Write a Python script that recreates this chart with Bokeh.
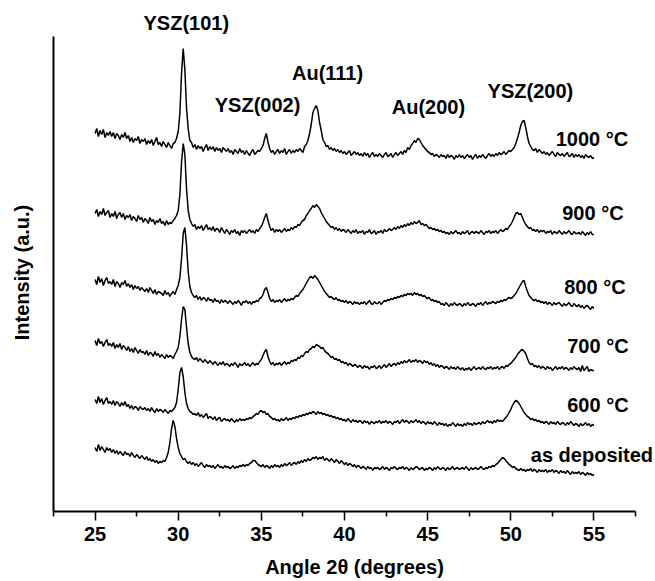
import numpy as np
from bokeh.plotting import figure
from bokeh.models import LinearAxis, FixedTicker, ColumnDataSource, Title
from bokeh.core.properties import value
from bokeh.embed import file_html
from bokeh.resources import INLINE

# Scan positions (degrees 2-theta), 0.1 deg step from 25 to 55
two_theta = np.round(np.arange(250, 551) / 10.0, 1)

# Intensities (a.u.) per annealing temperature, relative to each pattern's baseline
int_1000 = [
    22, 27, 19, 25, 21, 26, 18, 23, 20, 24,
    19, 23, 17, 22, 20, 16, 21, 18, 23, 17,
    20, 14, 18, 13, 17, 15, 19, 12, 16, 14,
    17, 11, 15, 12, 16, 10, 14, 18, 11, 13,
    9, 14, 11, 8, 13, 10, 7, 12, 13, 17,
    24, 42, 82, 107, 86, 47, 27, 15, 13, 8,
    11, 6, 10, 7, 9, 4, 8, 11, 5, 9,
    6, 9, 4, 8, 5, 7, 3, 8, 6, 4,
    7, 3, 5, 1, 6, 4, 2, 7, 3, 5,
    1, 5, 2, 0, 4, 6, 1, 3, 5, 4,
    7, 10, 17, 22, 13, 7, 3, 5, 1, 4,
    6, 2, 5, 3, 7, 1, 4, 6, 2, 5,
    3, 6, 4, 7, 5, 3, 9, 11, 15, 22,
    31, 43, 47, 50, 45, 33, 25, 16, 13, 9,
    10, 6, 8, 5, 7, 4, 6, 3, 5, 2,
    4, 1, 3, 5, 0, 2, 4, 1, 3, 0,
    2, -1, 3, 0, 2, -2, 1, 3, -1, 1,
    -1, 2, 0, -2, 1, 3, -1, 0, 2, -2,
    1, 3, 0, 2, 4, 1, 5, 3, 8, 6,
    10, 12, 15, 13, 17, 16, 13, 10, 8, 6,
    4, 3, 1, 2, -1, 1, 0, -2, 1, -1,
    0, -3, 1, -2, 0, -1, -4, 0, -2, 1,
    -2, 0, -3, -1, 1, -2, 0, -4, -1, 1,
    -3, 0, -2, 1, -1, -3, 0, 2, -1, 1,
    -1, 2, 0, 3, 1, 2, 4, 1, 3, 5,
    4, 6, 8, 12, 17, 23, 30, 34, 35, 28,
    19, 12, 9, 6, 5, 7, 3, 6, 4, 2,
    4, 1, 3, 0, 2, 4, 1, -1, 3, 1,
    0, 2, -1, 1, 3, -1, 0, 2, -2, 1,
    -1, 1, -2, 0, -3, 1, -1, -2, 0, -3,
    -2,
]

int_900 = [
    19, 23, 16, 21, 18, 24, 17, 20, 22, 15,
    19, 16, 21, 14, 18, 20, 15, 19, 13, 17,
    15, 18, 12, 16, 14, 11, 17, 13, 15, 10,
    14, 12, 9, 15, 11, 13, 8, 12, 10, 14,
    9, 11, 7, 12, 8, 10, 9, 12, 14, 17,
    22, 38, 70, 89, 78, 44, 22, 13, 9, 6,
    8, 3, 6, 4, 7, 2, 5, 8, 3, 5,
    2, 6, 1, 4, 3, 0, 5, 2, -1, 3,
    1, -2, 2, 0, 3, -1, 1, -3, 2, 0,
    2, -1, 1, 3, 0, 2, -1, 3, 1, 4,
    6, 10, 15, 19, 12, 6, 2, 4, 0, 3,
    1, 3, 0, 2, 4, 1, 3, 2, 5, 3,
    6, 5, 8, 7, 10, 12, 13, 17, 19, 22,
    24, 27, 25, 28, 26, 24, 20, 17, 14, 11,
    9, 7, 5, 6, 3, 5, 2, 4, 1, 3,
    2, 0, 3, 1, -1, 2, 0, 3, -1, 1,
    0, 2, -2, 1, 0, 3, -1, 0, 2, -2,
    1, 0, 2, -1, 3, 1, 2, 4, 2, 3,
    5, 3, 6, 4, 7, 5, 8, 6, 9, 7,
    10, 8, 11, 9, 10, 12, 8, 9, 7, 8,
    6, 4, 5, 3, 4, 2, 3, 1, 2, 0,
    1, -1, 0, -2, 1, -1, 0, 2, -1, 0,
    -2, 1, -1, 0, 2, -2, 0, 1, -1, 1,
    0, -1, 2, 0, -2, 1, 0, 2, -1, 1,
    0, 2, -1, 1, 3, 1, 2, 4, 3, 6,
    8, 11, 15, 19, 20, 18, 19, 15, 11, 8,
    6, 4, 5, 2, 3, 1, 3, 0, 2, 1,
    2, -1, 1, 0, 2, -2, 1, 0, -1, 2,
    0, -2, 1, -1, 0, 2, -1, -2, 1, -1,
    -1, 0, -2, 1, -1, -3, 0, -2, 1, -2,
    -2,
]

int_800 = [
    24, 19, 27, 21, 25, 18, 23, 26, 20, 22,
    19, 24, 17, 22, 20, 16, 21, 19, 23, 17,
    20, 16, 19, 14, 18, 15, 17, 13, 16, 14,
    12, 15, 11, 16, 13, 10, 14, 9, 12, 11,
    10, 8, 13, 9, 11, 7, 10, 12, 9, 14,
    18, 26, 45, 70, 76, 58, 32, 17, 11, 8,
    6, 8, 4, 7, 3, 6, 5, 2, 6, 3,
    4, 1, 5, 2, 3, 0, 4, 1, 3, 2,
    0, 3, 1, -1, 2, 0, 3, 1, -2, 2,
    1, 3, 0, 2, -1, 2, 1, 3, 2, 5,
    6, 9, 14, 16, 11, 5, 2, 4, 1, 3,
    2, 4, 1, 3, 5, 2, 4, 3, 5, 4,
    6, 8, 7, 10, 12, 14, 17, 20, 23, 26,
    27, 25, 28, 26, 24, 21, 18, 15, 12, 10,
    8, 6, 7, 5, 4, 6, 3, 4, 2, 3,
    1, 3, 0, 2, 1, -1, 2, 0, 1, -1,
    1, 0, 2, -1, 1, 3, 0, -1, 2, 0,
    0, 2, -1, 1, 3, 2, 4, 3, 5, 4,
    6, 5, 7, 6, 8, 7, 9, 8, 10, 9,
    10, 8, 11, 9, 10, 8, 9, 7, 8, 6,
    5, 6, 3, 4, 2, 3, 1, 2, -1, 0,
    -2, 1, -1, -3, 0, -2, 1, -1, -2, 0,
    -1, -3, 0, -2, 1, -1, -2, 0, -1, -3,
    0, -1, 1, -2, 0, 2, -1, 1, 0, 2,
    1, 0, 2, 1, 3, 2, 4, 3, 5, 6,
    5, 6, 8, 10, 13, 16, 19, 22, 23, 17,
    12, 8, 6, 4, 3, 4, 2, 3, 1, 2,
    0, 2, -1, 1, 0, -2, 1, -1, 0, 1,
    -1, -3, 0, -2, -1, 1, -2, -3, 0, -2,
    -3, -1, -4, -2, -5, -3, -2, -4, -6, -3,
    -5,
]

int_700 = [
    27, 22, 29, 24, 26, 21, 25, 28, 22, 24,
    21, 25, 19, 23, 20, 24, 18, 22, 20, 17,
    21, 16, 19, 15, 20, 17, 14, 18, 15, 16,
    13, 17, 12, 15, 14, 11, 16, 12, 14, 10,
    13, 11, 9, 13, 10, 12, 11, 9, 13, 16,
    20, 31, 48, 61, 58, 40, 24, 15, 11, 9,
    8, 10, 6, 9, 7, 5, 8, 6, 4, 7,
    5, 3, 6, 4, 2, 5, 3, 6, 2, 4,
    3, 1, 4, 2, 5, 3, 0, 4, 2, 3,
    5, 2, 4, 1, 3, 5, 2, 4, 3, 6,
    8, 12, 16, 18, 11, 6, 3, 5, 2, 4,
    3, 5, 2, 4, 6, 3, 5, 4, 7, 6,
    8, 7, 10, 9, 12, 11, 14, 16, 15, 18,
    19, 21, 20, 23, 22, 21, 19, 20, 17, 15,
    14, 12, 10, 11, 8, 9, 7, 8, 5, 6,
    4, 5, 2, 4, 3, 1, 3, 2, 0, 2,
    1, -1, 2, 0, 1, -2, 1, 0, 2, -1,
    0, 2, -1, 1, 3, 0, 2, 4, 1, 3,
    4, 2, 5, 3, 6, 4, 7, 5, 6, 8,
    5, 7, 6, 8, 5, 7, 6, 4, 7, 5,
    6, 3, 5, 2, 4, 1, 3, 0, 2, 1,
    -1, 1, 0, -2, 1, -1, 0, -2, 1, -1,
    -2, 0, -3, -1, -2, 0, -3, -1, 1, -2,
    -1, 0, -2, 1, -1, -2, 0, -1, 1, -2,
    0, -1, 1, -2, 0, 1, -1, 2, 1, 3,
    4, 6, 8, 10, 13, 15, 17, 18, 16, 14,
    9, 5, 3, 4, 1, 2, 0, 2, -1, 1,
    0, -2, 1, -1, 0, -3, -1, 1, -2, 0,
    -1, 1, -2, 0, -1, -3, 0, -2, 1, -1,
    -2, 0, -4, 2, -3, -1, 1, -4, -2, -3,
    -3,
]

int_600 = [
    23, 19, 26, 20, 24, 18, 22, 25, 19, 21,
    18, 22, 17, 21, 19, 16, 20, 17, 21, 16,
    18, 14, 17, 13, 16, 15, 12, 16, 14, 13,
    15, 12, 14, 11, 15, 12, 10, 14, 11, 13,
    12, 10, 13, 11, 9, 12, 11, 13, 15, 20,
    33, 50, 55, 46, 30, 19, 14, 11, 10, 8,
    9, 7, 10, 6, 8, 5, 7, 9, 4, 6,
    5, 3, 6, 2, 4, 5, 1, 3, 4, 2,
    3, 1, 4, 2, 0, 3, 1, 4, 2, 3,
    2, 4, 3, 5, 4, 6, 7, 9, 8, 11,
    12, 10, 11, 8, 9, 6, 5, 3, 4, 2,
    3, 1, 4, 2, 3, 5, 2, 4, 3, 5,
    4, 6, 5, 7, 6, 8, 7, 9, 8, 10,
    9, 11, 10, 8, 11, 9, 10, 8, 9, 7,
    8, 6, 7, 5, 6, 4, 5, 3, 4, 2,
    3, 1, 4, 2, 0, 3, 1, 2, 0, 2,
    1, -1, 2, 0, 1, -2, 1, 0, -1, 1,
    0, 2, -1, 1, 0, 2, -1, 1, 0, -2,
    1, 0, 2, -1, 1, 3, 0, 2, 1, -1,
    2, 0, 1, 3, 0, 2, -1, 1, 0, -2,
    1, -1, 0, -2, 1, -1, -3, 0, -2, -1,
    -3, -1, -4, -2, -3, 0, -2, -4, -1, -3,
    -2, -4, -1, -3, 0, -2, -1, -3, 0, -2,
    -1, 0, -2, 1, -1, 0, 2, 0, 1, -1,
    2, 0, 3, 1, 2, 1, 3, 5, 7, 10,
    13, 17, 20, 22, 21, 19, 16, 13, 10, 8,
    6, 5, 3, 4, 2, 3, 1, 2, 0, 1,
    -1, 1, 0, -2, 1, -1, 0, -2, 1, -1,
    -2, 0, -1, -3, 0, -2, 1, -1, -3, -1,
    -2, -4, -1, -3, -2, 0, -3, -1, -4, -2,
    -3,
]

int_asdep = [
    21, 17, 24, 18, 22, 19, 16, 21, 18, 20,
    16, 19, 15, 18, 14, 17, 15, 13, 17, 14,
    15, 12, 16, 13, 11, 14, 12, 10, 13, 11,
    9, 12, 8, 10, 7, 9, 6, 8, 5, 7,
    6, 8, 7, 11, 16, 26, 40, 48, 42, 30,
    21, 15, 12, 9, 10, 7, 5, 7, 4, 6,
    3, 5, 2, 4, 6, 3, 1, 4, 2, 3,
    1, 3, 0, 2, 4, 1, 2, 0, 3, 1,
    2, 0, 1, 3, 0, 2, 1, 3, 2, 4,
    2, 4, 3, 5, 6, 8, 8, 6, 4, 3,
    2, 4, 1, 3, 2, 0, 3, 1, 4, 2,
    3, 1, 4, 2, 5, 3, 4, 6, 3, 5,
    6, 4, 7, 5, 8, 6, 9, 7, 10, 8,
    9, 11, 10, 12, 9, 11, 10, 12, 8, 10,
    9, 7, 10, 8, 6, 9, 7, 5, 8, 6,
    4, 6, 3, 5, 4, 2, 4, 1, 3, 2,
    0, 2, 1, -1, 2, 0, 1, -2, 1, 0,
    1, -1, 0, 2, -1, 1, 0, -2, 1, 0,
    2, 0, -1, 1, 0, 2, -1, 1, 0, -2,
    1, -1, 0, 2, 1, -1, 0, 1, -2, 0,
    -1, 1, 0, -2, 1, -1, 2, 0, -1, 1,
    0, -2, 1, -1, 0, 2, -1, 0, 1, -1,
    0, 1, -1, 2, 0, -2, 1, -1, 0, 1,
    -1, 0, 2, 0, -1, 1, 0, 2, 1, 3,
    2, 4, 5, 7, 9, 11, 10, 8, 6, 4,
    3, 1, 2, 0, -1, -2, 0, -2, -1, -3,
    -1, -2, 0, -3, -1, -2, -4, -1, -3, -2,
    -3, -1, -4, -2, -3, -1, -4, -2, -3, -5,
    -2, -4, -3, -5, -2, -4, -6, -3, -5, -4,
    -5, -3, -6, -4, -5, -7, -4, -6, -5, -7,
    -6,
]

patterns = [int_1000, int_900, int_800, int_700, int_600, int_asdep]
sample_names = ["1000 \u00b0C", "900 \u00b0C", "800 \u00b0C", "700 \u00b0C", "600 \u00b0C", "as deposited"]
stack_offsets = [356, 279, 208, 144, 89, 43]

# strongest reflection is labelled above the plotting area; the others inside it
top_peak_name = "YSZ(101)"
peak_names = ["YSZ(002)", "Au(111)", "Au(200)", "YSZ(200)"]

# label placement (data coordinates)
peak_label_x = [34.77, 38.98, 45.05, 51.18]
peak_label_y = [407, 439, 405, 421]
sample_label_x = [54.88, 54.94, 55.06, 55.24, 55.24, 54.88]
sample_label_pad = [17, 20, 17, 22, 18, 14]

x_ticks = [25, 30, 35, 40, 45, 50, 55]
x_minor = [22.5, 27.5, 32.5, 37.5, 42.5, 47.5, 52.5, 57.5]

FONT = "Liberation Sans"

p = figure(
    width=655, height=581,
    x_range=(22.5, 58.703), y_range=(0, 478),
    output_backend="svg", toolbar_location=None,
    x_axis_location=None, y_axis_location=None,
    min_border_left=53, min_border_right=0,
    min_border_top=33, min_border_bottom=70,
    background_fill_color="white", border_fill_color="white",
)
p.outline_line_color = None
p.grid.grid_line_color = None

xaxis = LinearAxis(
    ticker=FixedTicker(ticks=x_ticks, minor_ticks=x_minor),
    bounds=(22.5, 57.5),
    axis_label="Angle 2\u03b8 (degrees)",
    axis_line_width=2, axis_line_color="black",
    major_tick_out=9, major_tick_in=0, major_tick_line_width=1.5,
    major_tick_line_color="black",
    minor_tick_out=5, minor_tick_in=0, minor_tick_line_width=1.5,
    minor_tick_line_color="black",
    major_label_text_font=FONT, major_label_text_font_style="bold",
    major_label_text_font_size="20px", major_label_standoff=6,
    major_label_text_color="black",
    axis_label_text_font=FONT, axis_label_text_font_style="bold",
    axis_label_text_font_size="20px", axis_label_standoff=12,
    axis_label_text_color="black",
)
p.add_layout(xaxis, "below")

yaxis = LinearAxis(
    ticker=FixedTicker(ticks=[]),
    bounds=(0, 475),
    axis_label="Intensity (a.u.)",
    axis_line_width=2, axis_line_color="black",
    major_tick_out=0, major_tick_in=0, minor_tick_out=0, minor_tick_in=0,
    major_label_text_font_size="0px",
    axis_label_text_font=FONT, axis_label_text_font_style="bold",
    axis_label_text_font_size="20px", axis_label_standoff=21,
    axis_label_text_color="black",
)
p.add_layout(yaxis, "left")

p.add_layout(Title(
    text=top_peak_name, align="left", offset=90, standoff=0,
    vertical_align="bottom",
    text_font=FONT, text_font_style="bold", text_font_size="20px",
    text_color="black",
), "above")

for vals, off in zip(patterns, stack_offsets):
    p.line(two_theta, np.asarray(vals) + off, line_color="black", line_width=1.5)

peak_src = ColumnDataSource(dict(x=peak_label_x, y=peak_label_y, text=peak_names))
sample_src = ColumnDataSource(dict(
    x=sample_label_x,
    y=[o + d for o, d in zip(stack_offsets, sample_label_pad)],
    text=sample_names,
))
for src in (peak_src, sample_src):
    p.text(x="x", y="y", text="text", source=src,
           text_font=value(FONT), text_font_style="bold",
           text_font_size=value("20px"), text_color="black",
           text_align="center", text_baseline="alphabetic")

open("out.html", "w").write(file_html(p, INLINE))
